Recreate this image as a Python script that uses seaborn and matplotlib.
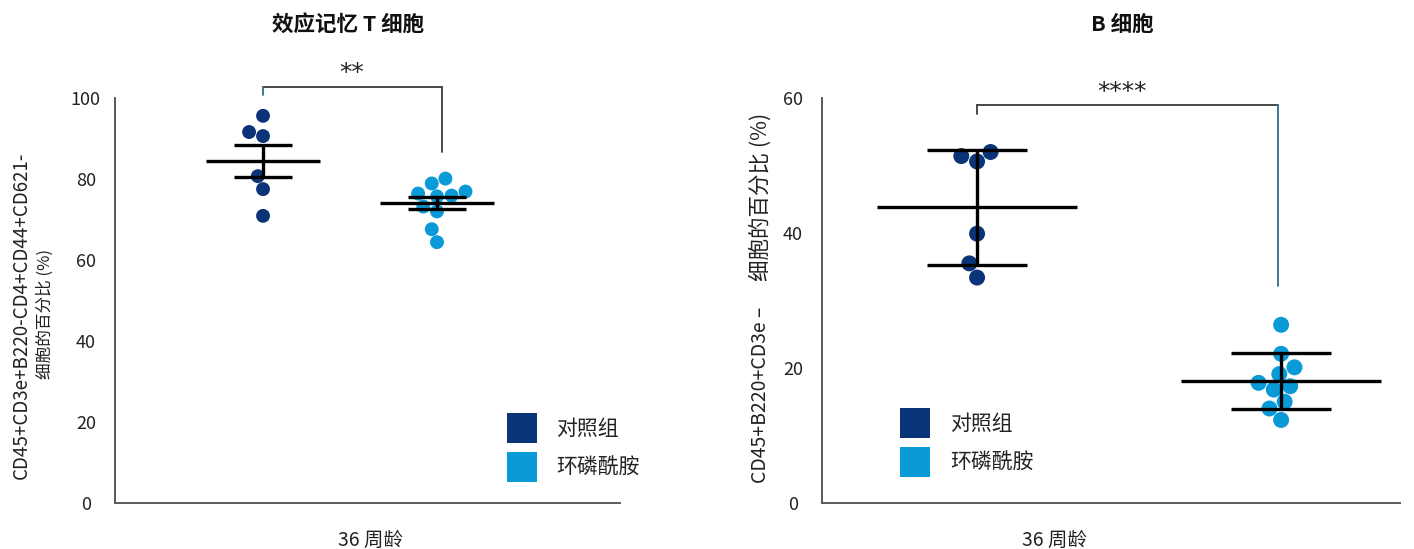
import numpy as np
import pandas as pd
import matplotlib
matplotlib.use("Agg")
import matplotlib.pyplot as plt
import seaborn as sns
from matplotlib.patches import Patch

# ---- data -------------------------------------------------------------
groups = ["对照组", "环磷酰胺"]

# effector memory T cells, % of CD45+CD3e+B220-CD4+CD44+CD62L-
tem_control = [95.6, 90.6, 91.6, 80.7, 77.5, 70.9]
tem_cyclo = [80.1, 75.9, 76.9, 78.9, 76.4, 75.7, 73.2, 72.0, 67.6, 64.4]

# B cells, % of CD45+B220+CD3e-
b_control = [52.0, 50.6, 51.4, 39.9, 35.5, 33.4]
b_cyclo = [26.4, 22.1, 19.1, 17.3, 16.8, 17.8, 20.1, 15.0, 14.0, 12.3]

tem_ticks = [0, 20, 40, 60, 80, 100]
b_ticks = [0, 20, 40, 60]

titles = ["效应记忆 T 细胞", "B 细胞"]
xlabel = "36 周龄"
tem_ylabel = ["CD45+CD3e+B220-CD4+CD44+CD621-", "细胞的百分比 (%)"]
b_ylabel = ["CD45+B220+CD3e –", "细胞的百分比 (%)"]
tem_sig = "**"
b_sig = "****"

# ---- style ------------------------------------------------------------
NAVY = "#0b3378"
SKY = "#0a9ad7"
palette = {groups[0]: NAVY, groups[1]: SKY}
BRACKET = "#3a3a3a"
TEAL = "#2e6e8e"
SPINE = "#5a5a5a"
INK = "#222222"

sns.set_theme(style="white")
plt.rcParams["font.family"] = ["Noto Sans CJK SC", "DejaVu Sans"]

W, H = 1414, 549
fig = plt.figure(figsize=(W / 100, H / 100), dpi=100)


def px_rect(x0, y_top, x1, y_bot):
    return [x0 / W, 1 - y_bot / H, (x1 - x0) / W, (y_bot - y_top) / H]


def fig_xy(x, y):
    return x / W, 1 - y / H


ax1 = fig.add_axes(px_rect(115, 98, 620, 503))
ax2 = fig.add_axes(px_rect(822, 98, 1400, 503))


def long_frame(control, cyclo):
    return pd.DataFrame({
        "group": [groups[0]] * len(control) + [groups[1]] * len(cyclo),
        "value": list(control) + list(cyclo),
    })


tem_df = long_frame(tem_control, tem_cyclo)
b_df = long_frame(b_control, b_cyclo)


def mean_and_error(ax, df, kind):
    stats = df.groupby("group", sort=False)["value"].agg(["mean", "std", "count"])
    for i, g in enumerate(groups):
        m = stats.loc[g, "mean"]
        e = stats.loc[g, "std"]
        if kind == "se":
            e = e / np.sqrt(stats.loc[g, "count"])
        kw = dict(color="black", lw=2.4, zorder=4, capstyle="butt")
        ax.hlines(m, i - 0.33, i + 0.33, **kw)
        ax.hlines([m - e, m + e], i - 0.165, i + 0.165, **kw)
        ax.vlines(i, m - e, m + e, **kw)


def bracket(ax, x0, x1, y, y_left, y_right, c_left, c_right, text, tx, ty):
    kw = dict(lw=1.3, clip_on=False, zorder=5)
    ax.plot([x0, x1], [y, y], color=BRACKET, **kw)
    ax.plot([x0, x0], [y, y_left], color=c_left, **kw)
    ax.plot([x1, x1], [y, y_right], color=c_right, **kw)
    ax.text(tx, ty, text, ha="center", va="baseline", fontsize=18,
            family=["DejaVu Sans"], color=INK, clip_on=False)


def style_axes(ax, ticks, ylim, xlim):
    ax.set_ylim(*ylim)
    ax.set_xlim(*xlim)
    ax.set_yticks(ticks)
    ax.set_xticks([])
    ax.tick_params(axis="y", length=0, pad=21, labelsize=13, labelcolor=INK)
    for lab in ax.get_yticklabels():
        lab.set_ha("center")
    sns.despine(ax=ax)
    for side in ("left", "bottom"):
        ax.spines[side].set_color(SPINE)
        ax.spines[side].set_linewidth(1.4)
    ax.set_xlabel(xlabel, fontsize=14, color=INK, va="center")


def vtext(x, y, s, size):
    fig.text(*fig_xy(x, y), s, rotation=90, ha="center", va="center",
             fontsize=size, color=INK)


# ---- effector memory T cells --------------------------------------------
sns.swarmplot(data=tem_df, x="group", y="value", hue="group", order=groups,
              palette=palette, size=10, linewidth=0, legend=False, ax=ax1, zorder=3)
mean_and_error(ax1, tem_df, "se")
style_axes(ax1, tem_ticks, (0, 100), (-0.851, 2.052))
ax1.set_ylabel("")
vtext(21, 315, tem_ylabel[0], 13.5)
vtext(45, 314, tem_ylabel[1], 12)
ax1.xaxis.set_label_coords(0.505, -0.0914)
bracket(ax1, 0, 1.03, 102.8, 100.7, 86.7, TEAL, BRACKET, tem_sig, 0.51, 104.4)

# ---- B cells ---------------------------------------------------------------
sns.swarmplot(data=b_df, x="group", y="value", hue="group", order=groups,
              palette=palette, size=11.5, linewidth=0, legend=False, ax=ax2, zorder=3)
mean_and_error(ax2, b_df, "sd")
style_axes(ax2, b_ticks, (0, 60), (-0.51, 1.391))
ax2.set_ylabel("")
vtext(761, 395, b_ylabel[0], 14)
vtext(761, 197, b_ylabel[1], 15.5)
ax2.xaxis.set_label_coords(0.403, -0.0914)
bracket(ax2, 0, 0.99, 58.9, 57.6, 32.1, BRACKET, TEAL, b_sig, 0.477, 59.9)

# ---- legends ---------------------------------------------------------------
handles = [Patch(facecolor=palette[g], edgecolor="none") for g in groups]
for ax, (lx, ly) in ((ax1, (506.7, 413)), (ax2, (900, 408))):
    ax.legend(handles, groups, loc="upper left",
              bbox_to_anchor=fig_xy(lx, ly), bbox_transform=fig.transFigure,
              frameon=False, fontsize=15, handlelength=1.44, handleheight=1.84,
              handletextpad=0.95, labelspacing=0.45, borderpad=0, borderaxespad=0,
              labelcolor=INK)

# ---- titles ----------------------------------------------------------------
fig.text(*fig_xy(348, 24), titles[0], ha="center", va="center",
         fontsize=15.5, fontweight="bold", color="#111111")
fig.text(*fig_xy(1122, 24), titles[1], ha="center", va="center",
         fontsize=15.5, fontweight="bold", color="#111111")

fig.savefig("out.png", dpi=100, facecolor="white")
